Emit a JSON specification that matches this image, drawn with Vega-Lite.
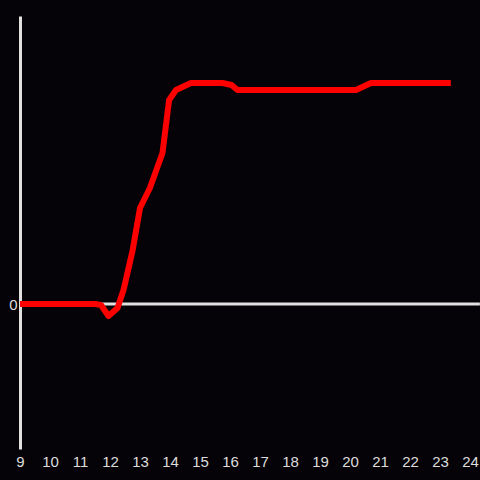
{
  "$schema": "https://vega.github.io/schema/vega-lite/v6.json",
  "width": 450,
  "height": 433,
  "autosize": {"type": "none"},
  "padding": {"left": 20, "top": 16, "right": 10, "bottom": 31},
  "background": "#050307",
  "config": {
    "view": {"stroke": null},
    "font": "Liberation Sans",
    "axis": {"labelFontSize": 15, "labelColor": "#dddddd", "labelFont": "Liberation Sans", "ticks": false, "grid": false, "title": null},
    "axisX": {"domain": false, "labelPadding": 5, "labelFlush": false, "labelOverlap": false, "labelFontSize": 15},
    "axisY": {"domain": true, "domainColor": "#e0e0e0", "domainWidth": 3, "labelPadding": 3, "labelFontSize": 15}
  },
  "datasets": {
    "series": [
      {"t": 9.0, "v": 0},
      {"t": 11.5, "v": 0},
      {"t": 11.7, "v": -1},
      {"t": 11.95, "v": -12},
      {"t": 12.25, "v": -4},
      {"t": 12.45, "v": 14},
      {"t": 12.75, "v": 53},
      {"t": 13.0, "v": 96},
      {"t": 13.33, "v": 116},
      {"t": 13.75, "v": 151},
      {"t": 13.97, "v": 204},
      {"t": 14.2, "v": 214},
      {"t": 14.7, "v": 221},
      {"t": 15.75, "v": 221},
      {"t": 16.05, "v": 219},
      {"t": 16.25, "v": 214},
      {"t": 20.2, "v": 214},
      {"t": 20.7, "v": 221},
      {"t": 23.36, "v": 221}
    ],
    "zero": [{"a": 9, "b": 24.33, "v": 0}]
  },
  "encoding": {
    "x": {"type": "quantitative", "scale": {"domain": [9, 24], "nice": false, "zero": false},
      "axis": {"values": [9,10,11,12,13,14,15,16,17,18,19,20,21,22,23,24], "labelOverlap": false, "labelFontSize": 15, "labelSeparation": 0}},
    "y": {"field": "v", "type": "quantitative", "scale": {"domain": [-145, 288], "nice": false, "zero": false},
      "axis": {"values": [0], "labelFontSize": 15}}
  },
  "layer": [
    {
      "data": {"name": "zero"},
      "mark": {"type": "rule", "color": "#e0e0e0", "strokeWidth": 3, "clip": false},
      "encoding": {
        "x": {"field": "a", "type": "quantitative"},
        "x2": {"field": "b"}
      }
    },
    {
      "data": {"name": "series"},
      "mark": {"type": "line", "color": "#ff0000", "strokeWidth": 6, "strokeJoin": "round", "strokeCap": "butt"},
      "encoding": {
        "x": {"field": "t", "type": "quantitative"}
      }
    }
  ]
}
